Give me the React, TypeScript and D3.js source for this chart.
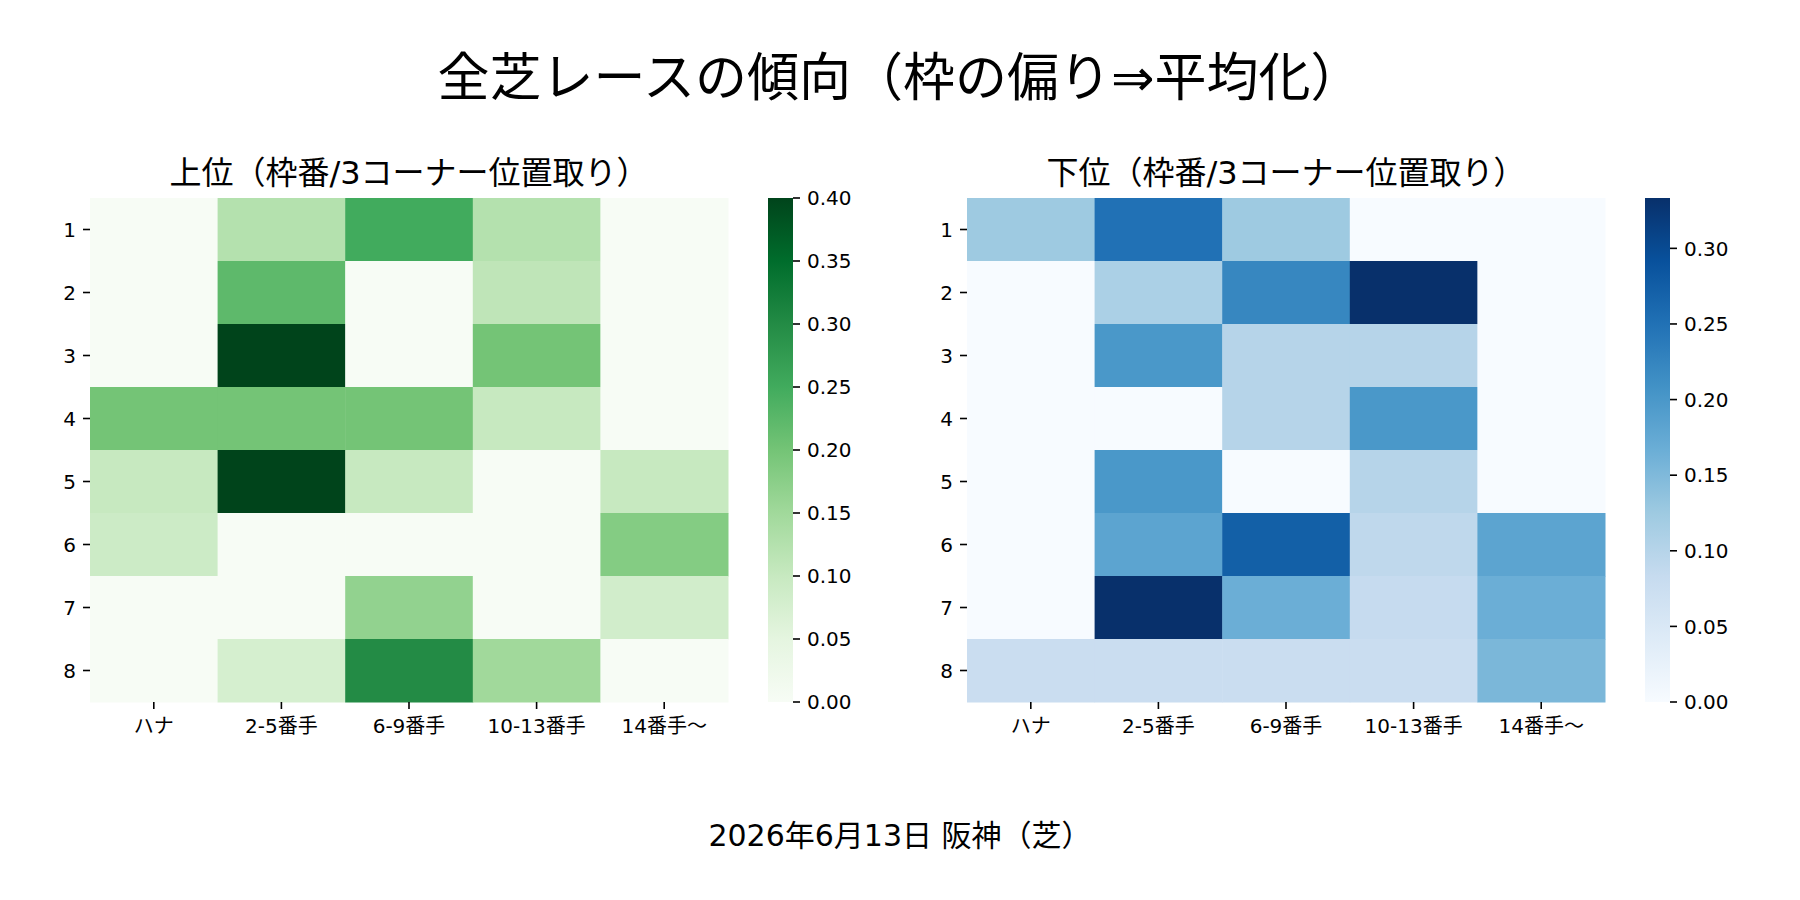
import React, { useEffect, useRef } from 'react';
import * as d3 from 'd3';

const rowLabels = ['1', '2', '3', '4', '5', '6', '7', '8'];
const colLabels = ['ハナ', '2-5番手', '6-9番手', '10-13番手', '14番手～'];

// 上位: share per frame row / corner position
const topValues = [
  [0, 0.125, 0.25, 0.125, 0],
  [0, 0.222, 0, 0.111, 0],
  [0, 0.4, 0, 0.2, 0],
  [0.2, 0.2, 0.2, 0.1, 0],
  [0.1, 0.4, 0.1, 0, 0.1],
  [0.0909, 0, 0, 0, 0.1818],
  [0, 0, 0.1667, 0, 0.0833],
  [0, 0.077, 0.3, 0.15, 0],
];
const topTicks = [0, 0.05, 0.1, 0.15, 0.2, 0.25, 0.3, 0.35, 0.4];
const topMax = 0.4;

// 下位
const bottomValues = [
  [0.125, 0.25, 0.125, 0, 0],
  [0, 0.111, 0.222, 0.3333, 0],
  [0, 0.2, 0.1, 0.1, 0],
  [0, 0, 0.1, 0.2, 0],
  [0, 0.2, 0, 0.1, 0],
  [0, 0.1818, 0.2727, 0.0909, 0.1818],
  [0, 0.3333, 0.1667, 0.0833, 0.1667],
  [0.0769, 0.0769, 0.0769, 0.0769, 0.1538],
];
const bottomTicks = [0, 0.05, 0.1, 0.15, 0.2, 0.25, 0.3];
const bottomMax = 0.3333;

const W = 1800;
const H = 900;
const FONT = "'DejaVu Sans', 'Noto Sans CJK JP', sans-serif";

interface PanelOpts {
  id: string;
  left: number;
  values: number[][];
  colors: readonly string[];
  vmax: number;
  ticks: number[];
  title: string;
}

const drawPanel = (svg: d3.Selection<SVGSVGElement, unknown, null, undefined>, o: PanelOpts) => {
  const top = 198;
  const hw = 638;
  const hh = 504;
  const cbLeft = o.left + hw + 40;
  const cbW = 25;

  const x = d3.scaleBand<string>().domain(colLabels).range([o.left, o.left + hw]);
  const y = d3.scaleBand<string>().domain(rowLabels).range([top, top + hh]);
  const color = d3.scaleLinear<string>()
    .domain(d3.range(o.colors.length).map((i) => (i / (o.colors.length - 1)) * o.vmax))
    .range(o.colors as string[])
    .clamp(true);

  const g = svg.append('g');

  o.values.forEach((row, ri) => {
    row.forEach((v, ci) => {
      g.append('rect')
        .attr('x', x(colLabels[ci])!)
        .attr('y', y(rowLabels[ri])!)
        .attr('width', x.bandwidth() + 0.5)
        .attr('height', y.bandwidth() + 0.5)
        .attr('fill', color(v));
    });
  });

  // x axis
  colLabels.forEach((c) => {
    const cx = x(c)! + x.bandwidth() / 2;
    g.append('line')
      .attr('x1', cx).attr('x2', cx)
      .attr('y1', top + hh).attr('y2', top + hh + 7)
      .attr('stroke', '#000').attr('stroke-width', 1.6);
    g.append('text')
      .attr('x', cx).attr('y', top + hh + 31)
      .attr('text-anchor', 'middle')
      .attr('font-size', 20)
      .attr('font-family', FONT)
      .text(c);
  });

  // y axis
  rowLabels.forEach((r) => {
    const cy = y(r)! + y.bandwidth() / 2;
    g.append('line')
      .attr('x1', o.left - 7).attr('x2', o.left)
      .attr('y1', cy).attr('y2', cy)
      .attr('stroke', '#000').attr('stroke-width', 1.6);
    g.append('text')
      .attr('x', o.left - 14).attr('y', cy)
      .attr('dy', '0.36em')
      .attr('text-anchor', 'end')
      .attr('font-size', 20)
      .attr('font-family', FONT)
      .text(r);
  });

  g.append('text')
    .attr('x', o.left + hw / 2).attr('y', top - 14)
    .attr('text-anchor', 'middle')
    .attr('font-size', 32)
    .attr('font-family', FONT)
    .text(o.title);

  // colorbar
  const grad = svg.append('defs').append('linearGradient')
    .attr('id', o.id)
    .attr('x1', 0).attr('y1', 1).attr('x2', 0).attr('y2', 0);
  o.colors.forEach((c, i) => {
    grad.append('stop')
      .attr('offset', i / (o.colors.length - 1))
      .attr('stop-color', c);
  });
  g.append('rect')
    .attr('x', cbLeft).attr('y', top)
    .attr('width', cbW).attr('height', hh)
    .attr('fill', `url(#${o.id})`);

  const cbScale = d3.scaleLinear().domain([0, o.vmax]).range([top + hh, top]);
  o.ticks.forEach((t) => {
    const ty = cbScale(t);
    g.append('line')
      .attr('x1', cbLeft + cbW).attr('x2', cbLeft + cbW + 7)
      .attr('y1', ty).attr('y2', ty)
      .attr('stroke', '#000').attr('stroke-width', 1.6);
    g.append('text')
      .attr('x', cbLeft + cbW + 14).attr('y', ty)
      .attr('dy', '0.36em')
      .attr('font-size', 20)
      .attr('font-family', FONT)
      .text(d3.format('.2f')(t));
  });
};

const App: React.FC = () => {
  const svgRef = useRef<SVGSVGElement>(null);

  useEffect(() => {
    if (!svgRef.current) return;
    const svg = d3.select(svgRef.current);
    svg.selectAll('*').remove();

    svg.append('rect').attr('width', W).attr('height', H).attr('fill', '#fff');

    svg.append('text')
      .attr('x', W / 2).attr('y', 96)
      .attr('text-anchor', 'middle')
      .attr('font-size', 52)
      .attr('font-family', FONT)
      .text('全芝レースの傾向（枠の偏り⇒平均化）');

    drawPanel(svg, {
      id: 'cb-greens',
      left: 90,
      values: topValues,
      colors: d3.schemeGreens[9],
      vmax: topMax,
      ticks: topTicks,
      title: '上位（枠番/3コーナー位置取り）',
    });

    drawPanel(svg, {
      id: 'cb-blues',
      left: 967,
      values: bottomValues,
      colors: d3.schemeBlues[9],
      vmax: bottomMax,
      ticks: bottomTicks,
      title: '下位（枠番/3コーナー位置取り）',
    });

    svg.append('text')
      .attr('x', W / 2).attr('y', 846)
      .attr('text-anchor', 'middle')
      .attr('font-size', 30)
      .attr('font-family', FONT)
      .text('2026年6月13日 阪神（芝）');
  }, []);

  return (
    <svg
      ref={svgRef}
      width={W}
      height={H}
      style={{ position: 'absolute', left: 0, top: 0, display: 'block' }}
    />
  );
};

export default App;
